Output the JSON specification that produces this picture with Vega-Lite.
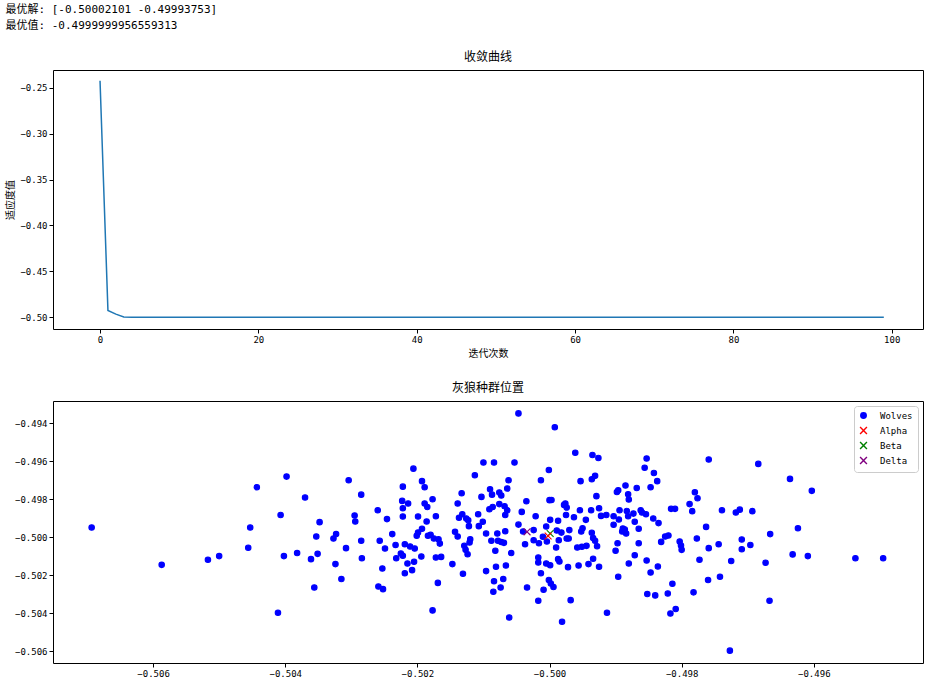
{
  "$schema": "https://vega.github.io/schema/vega-lite/v6.json",
  "padding": {"left": 5, "top": 3, "right": 5, "bottom": 5},
  "background": "white",
  "config": {
    "font": "Noto Sans CJK SC",
    "view": {"stroke": "#000", "strokeWidth": 1},
    "axis": {"grid": false, "domain": false, "tickColor": "#000", "tickSize": 4, "labelColor": "#000", "labelFont": "DejaVu Sans Mono", "labelFontSize": 9, "titleFont": "Noto Sans CJK SC", "titleFontSize": 10, "titleFontWeight": "normal", "titleColor": "#000", "labelPadding": 2},
    "title": {"fontWeight": "normal", "fontSize": 12, "font": "Noto Sans CJK SC", "color": "#000"},
    "concat": {"spacing": 22}
  },
  "title": {"text": ["最优解: [-0.50002101 -0.49993753]", "最优值: -0.4999999956559313"], "anchor": "start", "frame": "bounds", "font": "DejaVu Sans Mono, Noto Sans CJK SC", "fontSize": 11, "lineHeight": 16, "offset": 20, "fontWeight": "normal", "color": "#000"},
  "align": "none",
  "resolve": {"legend": {"fill": "independent", "stroke": "independent", "shape": "independent"}},
  "vconcat": [
    {
      "title": {"text": "收敛曲线", "offset": 6},
      "width": 870,
      "height": 259,
      "data": {"values": [
        {"iter":0,"fitness":-0.2425},{"iter":1,"fitness":-0.4927},{"iter":2,"fitness":-0.4966},{"iter":3,"fitness":-0.49975},{"iter":4,"fitness":-0.49988},
        {"iter":5,"fitness":-0.49993},{"iter":6,"fitness":-0.49996},{"iter":7,"fitness":-0.49997},{"iter":8,"fitness":-0.49998},{"iter":9,"fitness":-0.499985},
        {"iter":10,"fitness":-0.49999},{"iter":11,"fitness":-0.499992},{"iter":12,"fitness":-0.499993},{"iter":13,"fitness":-0.499994},{"iter":14,"fitness":-0.499995},
        {"iter":15,"fitness":-0.4999955},{"iter":16,"fitness":-0.499996},{"iter":17,"fitness":-0.4999965},{"iter":18,"fitness":-0.499997},{"iter":19,"fitness":-0.4999973},
        {"iter":20,"fitness":-0.4999976},{"iter":21,"fitness":-0.4999978},{"iter":22,"fitness":-0.499998},{"iter":23,"fitness":-0.4999982},{"iter":24,"fitness":-0.4999984},
        {"iter":25,"fitness":-0.4999985},{"iter":26,"fitness":-0.4999987},{"iter":27,"fitness":-0.4999988},{"iter":28,"fitness":-0.4999989},{"iter":29,"fitness":-0.499999},
        {"iter":30,"fitness":-0.4999991},{"iter":31,"fitness":-0.4999992},{"iter":32,"fitness":-0.4999993},{"iter":33,"fitness":-0.4999993},{"iter":34,"fitness":-0.4999994},
        {"iter":35,"fitness":-0.4999994},{"iter":36,"fitness":-0.4999995},{"iter":37,"fitness":-0.4999995},{"iter":38,"fitness":-0.4999996},{"iter":39,"fitness":-0.4999996},
        {"iter":40,"fitness":-0.4999996},{"iter":41,"fitness":-0.4999997},{"iter":42,"fitness":-0.4999997},{"iter":43,"fitness":-0.4999997},{"iter":44,"fitness":-0.4999997},
        {"iter":45,"fitness":-0.4999998},{"iter":46,"fitness":-0.4999998},{"iter":47,"fitness":-0.4999998},{"iter":48,"fitness":-0.4999998},{"iter":49,"fitness":-0.4999998},
        {"iter":50,"fitness":-0.4999998},{"iter":51,"fitness":-0.4999999},{"iter":52,"fitness":-0.4999999},{"iter":53,"fitness":-0.4999999},{"iter":54,"fitness":-0.4999999},
        {"iter":55,"fitness":-0.4999999},{"iter":56,"fitness":-0.4999999},{"iter":57,"fitness":-0.4999999},{"iter":58,"fitness":-0.4999999},{"iter":59,"fitness":-0.4999999},
        {"iter":60,"fitness":-0.4999999},{"iter":61,"fitness":-0.4999999},{"iter":62,"fitness":-0.4999999},{"iter":63,"fitness":-0.4999999},{"iter":64,"fitness":-0.4999999},
        {"iter":65,"fitness":-0.4999999},{"iter":66,"fitness":-0.49999995},{"iter":67,"fitness":-0.49999995},{"iter":68,"fitness":-0.49999995},{"iter":69,"fitness":-0.49999995},
        {"iter":70,"fitness":-0.49999995},{"iter":71,"fitness":-0.49999996},{"iter":72,"fitness":-0.49999996},{"iter":73,"fitness":-0.49999996},{"iter":74,"fitness":-0.49999996},
        {"iter":75,"fitness":-0.49999997},{"iter":76,"fitness":-0.49999997},{"iter":77,"fitness":-0.49999997},{"iter":78,"fitness":-0.49999997},{"iter":79,"fitness":-0.49999997},
        {"iter":80,"fitness":-0.49999998},{"iter":81,"fitness":-0.49999998},{"iter":82,"fitness":-0.49999998},{"iter":83,"fitness":-0.49999998},{"iter":84,"fitness":-0.49999998},
        {"iter":85,"fitness":-0.49999998},{"iter":86,"fitness":-0.49999998},{"iter":87,"fitness":-0.49999999},{"iter":88,"fitness":-0.49999999},{"iter":89,"fitness":-0.49999999},
        {"iter":90,"fitness":-0.49999999},{"iter":91,"fitness":-0.49999999},{"iter":92,"fitness":-0.49999999},{"iter":93,"fitness":-0.49999999},{"iter":94,"fitness":-0.49999999},
        {"iter":95,"fitness":-0.49999999},{"iter":96,"fitness":-0.49999999},{"iter":97,"fitness":-0.49999999},{"iter":98,"fitness":-0.4999999956},{"iter":99,"fitness":-0.4999999956}
      ]},
      "mark": {"type": "line", "color": "#1f77b4", "strokeWidth": 1.5},
      "encoding": {
        "x": {"field": "iter", "type": "quantitative", "scale": {"domain": [-5.94, 103.95], "nice": false, "zero": false}, "axis": {"values": [0, 20, 40, 60, 80, 100], "format": "d", "title": "迭代次数"}},
        "y": {"field": "fitness", "type": "quantitative", "scale": {"domain": [-0.5128, -0.2307], "nice": false, "zero": false}, "axis": {"values": [-0.5, -0.45, -0.4, -0.35, -0.3, -0.25], "format": ".2f", "title": "适应度值"}}
      }
    },
    {
      "title": {"text": "灰狼种群位置", "offset": 6},
      "width": 870,
      "height": 262,
      "data": {"values": [
        {"x":-0.50693,"y":-0.49949,"role":"Wolves"},{"x":-0.50587,"y":-0.50146,"role":"Wolves"},{"x":-0.50517,"y":-0.50119,"role":"Wolves"},{"x":-0.50500,"y":-0.50100,"role":"Wolves"},
        {"x":-0.50443,"y":-0.49737,"role":"Wolves"},{"x":-0.50453,"y":-0.49949,"role":"Wolves"},{"x":-0.50456,"y":-0.50056,"role":"Wolves"},{"x":-0.50398,"y":-0.49681,"role":"Wolves"},
        {"x":-0.50407,"y":-0.49883,"role":"Wolves"},{"x":-0.50402,"y":-0.50100,"role":"Wolves"},{"x":-0.50411,"y":-0.50398,"role":"Wolves"},{"x":-0.50370,"y":-0.49791,"role":"Wolves"},
        {"x":-0.50348,"y":-0.49921,"role":"Wolves"},{"x":-0.50353,"y":-0.49997,"role":"Wolves"},{"x":-0.50382,"y":-0.50084,"role":"Wolves"},{"x":-0.50361,"y":-0.50116,"role":"Wolves"},
        {"x":-0.50351,"y":-0.50088,"role":"Wolves"},{"x":-0.50356,"y":-0.50265,"role":"Wolves"},
        {"x":-0.50323,"y":-0.49984,"role":"Wolves"},{"x":-0.50327,"y":-0.50007,"role":"Wolves"},{"x":-0.50324,"y":-0.50142,"role":"Wolves"},{"x":-0.50315,"y":-0.50221,"role":"Wolves"},
        {"x":-0.50304,"y":-0.49700,"role":"Wolves"},{"x":-0.50285,"y":-0.49776,"role":"Wolves"},{"x":-0.50295,"y":-0.49886,"role":"Wolves"},{"x":-0.50294,"y":-0.49918,"role":"Wolves"},
        {"x":-0.50308,"y":-0.50058,"role":"Wolves"},{"x":-0.50285,"y":-0.50019,"role":"Wolves"},{"x":-0.50284,"y":-0.50111,"role":"Wolves"},{"x":-0.50260,"y":-0.49858,"role":"Wolves"},
        {"x":-0.50246,"y":-0.49905,"role":"Wolves"},{"x":-0.50257,"y":-0.50019,"role":"Wolves"},{"x":-0.50249,"y":-0.50060,"role":"Wolves"},{"x":-0.50238,"y":-0.49984,"role":"Wolves"},
        {"x":-0.50253,"y":-0.50165,"role":"Wolves"},{"x":-0.50259,"y":-0.50260,"role":"Wolves"},{"x":-0.50252,"y":-0.50274,"role":"Wolves"},{"x":-0.50233,"y":-0.50041,"role":"Wolves"},
        {"x":-0.50232,"y":-0.50111,"role":"Wolves"},{"x":-0.50225,"y":-0.50086,"role":"Wolves"},{"x":-0.50222,"y":-0.50098,"role":"Wolves"},{"x":-0.50219,"y":-0.50037,"role":"Wolves"},
        {"x":-0.50219,"y":-0.50190,"role":"Wolves"},{"x":-0.50215,"y":-0.50139,"role":"Wolves"},{"x":-0.50222,"y":-0.49734,"role":"Wolves"},{"x":-0.50223,"y":-0.49809,"role":"Wolves"},
        {"x":-0.50222,"y":-0.49848,"role":"Wolves"},{"x":-0.50214,"y":-0.49823,"role":"Wolves"},{"x":-0.50222,"y":-0.49891,"role":"Wolves"},{"x":-0.50206,"y":-0.49639,"role":"Wolves"},
        {"x":-0.50193,"y":-0.49705,"role":"Wolves"},{"x":-0.50189,"y":-0.49737,"role":"Wolves"},{"x":-0.50211,"y":-0.50049,"role":"Wolves"},{"x":-0.50204,"y":-0.50060,"role":"Wolves"},
        {"x":-0.50205,"y":-0.50130,"role":"Wolves"},{"x":-0.50208,"y":-0.50174,"role":"Wolves"},{"x":-0.50194,"y":-0.50102,"role":"Wolves"},{"x":-0.50199,"y":-0.49891,"role":"Wolves"},
        {"x":-0.50201,"y":-0.49993,"role":"Wolves"},{"x":-0.50199,"y":-0.49976,"role":"Wolves"},{"x":-0.50193,"y":-0.49956,"role":"Wolves"},{"x":-0.50186,"y":-0.49918,"role":"Wolves"},
        {"x":-0.50189,"y":-0.49823,"role":"Wolves"},{"x":-0.50185,"y":-0.49841,"role":"Wolves"},{"x":-0.50177,"y":-0.49800,"role":"Wolves"},{"x":-0.50172,"y":-0.49890,"role":"Wolves"},
        {"x":-0.50184,"y":-0.49993,"role":"Wolves"},{"x":-0.50180,"y":-0.49988,"role":"Wolves"},{"x":-0.50175,"y":-0.50007,"role":"Wolves"},{"x":-0.50168,"y":-0.50011,"role":"Wolves"},
        {"x":-0.50166,"y":-0.50034,"role":"Wolves"},{"x":-0.50172,"y":-0.50107,"role":"Wolves"},{"x":-0.50164,"y":-0.50104,"role":"Wolves"},{"x":-0.50169,"y":-0.50241,"role":"Wolves"},
        {"x":-0.50177,"y":-0.50386,"role":"Wolves"},{"x":-0.50147,"y":-0.50142,"role":"Wolves"},{"x":-0.50143,"y":-0.49972,"role":"Wolves"},{"x":-0.50139,"y":-0.49997,"role":"Wolves"},
        {"x":-0.50139,"y":-0.49823,"role":"Wolves"},{"x":-0.50133,"y":-0.49769,"role":"Wolves"},{"x":-0.50137,"y":-0.49898,"role":"Wolves"},{"x":-0.50132,"y":-0.49879,"role":"Wolves"},
        {"x":-0.50126,"y":-0.49902,"role":"Wolves"},{"x":-0.50123,"y":-0.49911,"role":"Wolves"},{"x":-0.50122,"y":-0.49942,"role":"Wolves"},{"x":-0.50131,"y":-0.50193,"role":"Wolves"},
        {"x":-0.50129,"y":-0.50046,"role":"Wolves"},{"x":-0.50127,"y":-0.50067,"role":"Wolves"},{"x":-0.50124,"y":-0.50090,"role":"Wolves"},{"x":-0.50120,"y":-0.50011,"role":"Wolves"},
        {"x":-0.50121,"y":-0.50028,"role":"Wolves"},{"x":-0.50113,"y":-0.49674,"role":"Wolves"},{"x":-0.50108,"y":-0.49879,"role":"Wolves"},{"x":-0.50107,"y":-0.49942,"role":"Wolves"},
        {"x":-0.50047,"y":-0.49348,"role":"Wolves"},{"x":-0.49992,"y":-0.49421,"role":"Wolves"},{"x":-0.49961,"y":-0.49555,"role":"Wolves"},{"x":-0.49935,"y":-0.49567,"role":"Wolves"},
        {"x":-0.49926,"y":-0.49583,"role":"Wolves"},{"x":-0.50100,"y":-0.49607,"role":"Wolves"},{"x":-0.50084,"y":-0.49607,"role":"Wolves"},{"x":-0.50053,"y":-0.49607,"role":"Wolves"},
        {"x":-0.50001,"y":-0.49646,"role":"Wolves"},{"x":-0.50013,"y":-0.49700,"role":"Wolves"},{"x":-0.50062,"y":-0.49700,"role":"Wolves"},{"x":-0.49953,"y":-0.49705,"role":"Wolves"},
        {"x":-0.49936,"y":-0.49695,"role":"Wolves"},{"x":-0.49931,"y":-0.49677,"role":"Wolves"},{"x":-0.49885,"y":-0.49728,"role":"Wolves"},{"x":-0.49898,"y":-0.49762,"role":"Wolves"},
        {"x":-0.49896,"y":-0.49753,"role":"Wolves"},{"x":-0.49881,"y":-0.49774,"role":"Wolves"},{"x":-0.49880,"y":-0.49802,"role":"Wolves"},{"x":-0.49929,"y":-0.49784,"role":"Wolves"},
        {"x":-0.50090,"y":-0.49748,"role":"Wolves"},{"x":-0.50087,"y":-0.49776,"role":"Wolves"},{"x":-0.50076,"y":-0.49765,"role":"Wolves"},{"x":-0.50073,"y":-0.49781,"role":"Wolves"},
        {"x":-0.50064,"y":-0.49744,"role":"Wolves"},{"x":-0.50103,"y":-0.49788,"role":"Wolves"},{"x":-0.50035,"y":-0.49811,"role":"Wolves"},{"x":-0.50000,"y":-0.49805,"role":"Wolves"},
        {"x":-0.49997,"y":-0.49804,"role":"Wolves"},{"x":-0.49978,"y":-0.49830,"role":"Wolves"},{"x":-0.49976,"y":-0.49823,"role":"Wolves"},{"x":-0.49974,"y":-0.49844,"role":"Wolves"},
        {"x":-0.49954,"y":-0.49858,"role":"Wolves"},{"x":-0.49937,"y":-0.49858,"role":"Wolves"},{"x":-0.49925,"y":-0.49848,"role":"Wolves"},{"x":-0.49894,"y":-0.49858,"role":"Wolves"},
        {"x":-0.49883,"y":-0.49862,"role":"Wolves"},{"x":-0.49881,"y":-0.49890,"role":"Wolves"},{"x":-0.49922,"y":-0.49888,"role":"Wolves"},{"x":-0.49914,"y":-0.49883,"role":"Wolves"},
        {"x":-0.49903,"y":-0.49890,"role":"Wolves"},{"x":-0.49895,"y":-0.49907,"role":"Wolves"},{"x":-0.50091,"y":-0.49853,"role":"Wolves"},{"x":-0.50086,"y":-0.49841,"role":"Wolves"},
        {"x":-0.50076,"y":-0.49826,"role":"Wolves"},{"x":-0.50068,"y":-0.49837,"role":"Wolves"},{"x":-0.50064,"y":-0.49858,"role":"Wolves"},{"x":-0.50067,"y":-0.49883,"role":"Wolves"},
        {"x":-0.50042,"y":-0.49867,"role":"Wolves"},{"x":-0.50021,"y":-0.49890,"role":"Wolves"},{"x":-0.49975,"y":-0.49883,"role":"Wolves"},{"x":-0.49963,"y":-0.49895,"role":"Wolves"},
        {"x":-0.49945,"y":-0.49909,"role":"Wolves"},{"x":-0.49999,"y":-0.49909,"role":"Wolves"},{"x":-0.49987,"y":-0.49914,"role":"Wolves"},{"x":-0.50101,"y":-0.49919,"role":"Wolves"},
        {"x":-0.50047,"y":-0.49934,"role":"Wolves"},{"x":-0.50005,"y":-0.49944,"role":"Wolves"},{"x":-0.49903,"y":-0.49935,"role":"Wolves"},{"x":-0.49889,"y":-0.49955,"role":"Wolves"},
        {"x":-0.49890,"y":-0.49970,"role":"Wolves"},{"x":-0.49886,"y":-0.49960,"role":"Wolves"},{"x":-0.49884,"y":-0.49981,"role":"Wolves"},{"x":-0.49950,"y":-0.49953,"role":"Wolves"},
        {"x":-0.49952,"y":-0.49970,"role":"Wolves"},{"x":-0.49970,"y":-0.49963,"role":"Wolves"},{"x":-0.49989,"y":-0.49965,"role":"Wolves"},{"x":-0.49982,"y":-0.49976,"role":"Wolves"},
        {"x":-0.50040,"y":-0.49970,"role":"Wolves"},{"x":-0.50024,"y":-0.49963,"role":"Wolves"},{"x":-0.50067,"y":-0.49969,"role":"Wolves"},{"x":-0.50079,"y":-0.49981,"role":"Wolves"},
        {"x":-0.50096,"y":-0.49981,"role":"Wolves"},{"x":-0.50010,"y":-0.49998,"role":"Wolves"},{"x":-0.50016,"y":-0.50032,"role":"Wolves"},{"x":-0.50004,"y":-0.50023,"role":"Wolves"},
        {"x":-0.49986,"y":-0.50016,"role":"Wolves"},{"x":-0.49974,"y":-0.50007,"role":"Wolves"},{"x":-0.49971,"y":-0.50007,"role":"Wolves"},{"x":-0.50024,"y":-0.50016,"role":"Wolves"},
        {"x":-0.50037,"y":-0.50037,"role":"Wolves"},{"x":-0.49936,"y":-0.49977,"role":"Wolves"},{"x":-0.49934,"y":-0.50005,"role":"Wolves"},{"x":-0.49931,"y":-0.50019,"role":"Wolves"},
        {"x":-0.49928,"y":-0.50048,"role":"Wolves"},{"x":-0.49958,"y":-0.50055,"role":"Wolves"},{"x":-0.49951,"y":-0.50051,"role":"Wolves"},{"x":-0.49944,"y":-0.50046,"role":"Wolves"},
        {"x":-0.49990,"y":-0.50055,"role":"Wolves"},{"x":-0.49897,"y":-0.50032,"role":"Wolves"},{"x":-0.49900,"y":-0.50072,"role":"Wolves"},{"x":-0.50088,"y":-0.50019,"role":"Wolves"},
        {"x":-0.50078,"y":-0.50019,"role":"Wolves"},{"x":-0.50073,"y":-0.50026,"role":"Wolves"},{"x":-0.50069,"y":-0.50030,"role":"Wolves"},{"x":-0.50082,"y":-0.50072,"role":"Wolves"},
        {"x":-0.50058,"y":-0.50084,"role":"Wolves"},{"x":-0.50017,"y":-0.50107,"role":"Wolves"},{"x":-0.50017,"y":-0.50134,"role":"Wolves"},{"x":-0.50005,"y":-0.50139,"role":"Wolves"},
        {"x":-0.49999,"y":-0.50148,"role":"Wolves"},{"x":-0.49987,"y":-0.50116,"role":"Wolves"},{"x":-0.49985,"y":-0.50128,"role":"Wolves"},{"x":-0.49934,"y":-0.50114,"role":"Wolves"},
        {"x":-0.49941,"y":-0.50142,"role":"Wolves"},{"x":-0.49925,"y":-0.50156,"role":"Wolves"},{"x":-0.49956,"y":-0.50149,"role":"Wolves"},{"x":-0.49972,"y":-0.50158,"role":"Wolves"},
        {"x":-0.50081,"y":-0.50156,"role":"Wolves"},{"x":-0.50066,"y":-0.50149,"role":"Wolves"},{"x":-0.50096,"y":-0.50179,"role":"Wolves"},{"x":-0.50013,"y":-0.50190,"role":"Wolves"},
        {"x":-0.49880,"y":-0.50139,"role":"Wolves"},{"x":-0.49896,"y":-0.50209,"role":"Wolves"},{"x":-0.50084,"y":-0.50232,"role":"Wolves"},{"x":-0.50070,"y":-0.50221,"role":"Wolves"},
        {"x":-0.50074,"y":-0.50265,"role":"Wolves"},{"x":-0.50085,"y":-0.50288,"role":"Wolves"},{"x":-0.50034,"y":-0.50265,"role":"Wolves"},{"x":-0.50001,"y":-0.50226,"role":"Wolves"},
        {"x":-0.49998,"y":-0.50244,"role":"Wolves"},{"x":-0.49994,"y":-0.50263,"role":"Wolves"},{"x":-0.50009,"y":-0.50277,"role":"Wolves"},{"x":-0.50017,"y":-0.50335,"role":"Wolves"},
        {"x":-0.49968,"y":-0.50332,"role":"Wolves"},{"x":-0.49913,"y":-0.50398,"role":"Wolves"},{"x":-0.50061,"y":-0.50423,"role":"Wolves"},{"x":-0.49981,"y":-0.50446,"role":"Wolves"},
        {"x":-0.49853,"y":-0.49586,"role":"Wolves"},{"x":-0.49856,"y":-0.49634,"role":"Wolves"},{"x":-0.49842,"y":-0.49662,"role":"Wolves"},{"x":-0.49837,"y":-0.49705,"role":"Wolves"},
        {"x":-0.49847,"y":-0.49737,"role":"Wolves"},{"x":-0.49868,"y":-0.49741,"role":"Wolves"},{"x":-0.49759,"y":-0.49591,"role":"Wolves"},{"x":-0.49684,"y":-0.49614,"role":"Wolves"},
        {"x":-0.49636,"y":-0.49693,"role":"Wolves"},{"x":-0.49603,"y":-0.49756,"role":"Wolves"},{"x":-0.49780,"y":-0.49763,"role":"Wolves"},{"x":-0.49776,"y":-0.49795,"role":"Wolves"},
        {"x":-0.49788,"y":-0.49826,"role":"Wolves"},{"x":-0.49784,"y":-0.49863,"role":"Wolves"},{"x":-0.49816,"y":-0.49851,"role":"Wolves"},{"x":-0.49810,"y":-0.49851,"role":"Wolves"},
        {"x":-0.49873,"y":-0.49876,"role":"Wolves"},{"x":-0.49862,"y":-0.49858,"role":"Wolves"},{"x":-0.49860,"y":-0.49870,"role":"Wolves"},{"x":-0.49854,"y":-0.49879,"role":"Wolves"},
        {"x":-0.49843,"y":-0.49902,"role":"Wolves"},{"x":-0.49835,"y":-0.49926,"role":"Wolves"},{"x":-0.49871,"y":-0.49919,"role":"Wolves"},{"x":-0.49865,"y":-0.49956,"role":"Wolves"},
        {"x":-0.49739,"y":-0.49858,"role":"Wolves"},{"x":-0.49718,"y":-0.49870,"role":"Wolves"},{"x":-0.49712,"y":-0.49855,"role":"Wolves"},{"x":-0.49693,"y":-0.49863,"role":"Wolves"},
        {"x":-0.49763,"y":-0.49946,"role":"Wolves"},{"x":-0.49624,"y":-0.49953,"role":"Wolves"},{"x":-0.49666,"y":-0.49984,"role":"Wolves"},{"x":-0.49825,"y":-0.49997,"role":"Wolves"},
        {"x":-0.49820,"y":-0.49991,"role":"Wolves"},{"x":-0.49831,"y":-0.50025,"role":"Wolves"},{"x":-0.49803,"y":-0.50023,"role":"Wolves"},{"x":-0.49801,"y":-0.50044,"role":"Wolves"},
        {"x":-0.49800,"y":-0.50067,"role":"Wolves"},{"x":-0.49777,"y":-0.50007,"role":"Wolves"},{"x":-0.49759,"y":-0.50058,"role":"Wolves"},{"x":-0.49744,"y":-0.50037,"role":"Wolves"},
        {"x":-0.49709,"y":-0.50012,"role":"Wolves"},{"x":-0.49709,"y":-0.50064,"role":"Wolves"},{"x":-0.49696,"y":-0.50041,"role":"Wolves"},{"x":-0.49865,"y":-0.50032,"role":"Wolves"},
        {"x":-0.49871,"y":-0.50095,"role":"Wolves"},{"x":-0.49853,"y":-0.50123,"role":"Wolves"},{"x":-0.49836,"y":-0.50155,"role":"Wolves"},{"x":-0.49847,"y":-0.50186,"role":"Wolves"},
        {"x":-0.49773,"y":-0.50119,"role":"Wolves"},{"x":-0.49725,"y":-0.50126,"role":"Wolves"},{"x":-0.49673,"y":-0.50135,"role":"Wolves"},{"x":-0.49632,"y":-0.50091,"role":"Wolves"},
        {"x":-0.49609,"y":-0.50100,"role":"Wolves"},{"x":-0.49537,"y":-0.50111,"role":"Wolves"},{"x":-0.49495,"y":-0.50111,"role":"Wolves"},{"x":-0.49760,"y":-0.50226,"role":"Wolves"},
        {"x":-0.49742,"y":-0.50209,"role":"Wolves"},{"x":-0.49814,"y":-0.50246,"role":"Wolves"},{"x":-0.49852,"y":-0.50300,"role":"Wolves"},{"x":-0.49840,"y":-0.50307,"role":"Wolves"},
        {"x":-0.49821,"y":-0.50297,"role":"Wolves"},{"x":-0.49782,"y":-0.50291,"role":"Wolves"},{"x":-0.49809,"y":-0.50379,"role":"Wolves"},{"x":-0.49817,"y":-0.50402,"role":"Wolves"},
        {"x":-0.49667,"y":-0.50335,"role":"Wolves"},{"x":-0.49727,"y":-0.50598,"role":"Wolves"},
        {"x":-0.50002101,"y":-0.49993753,"role":"Alpha"},
        {"x":-0.49999,"y":-0.49981,"role":"Beta"},
        {"x":-0.50034,"y":-0.49972,"role":"Delta"}
      ]},
      "mark": {"type": "point", "filled": true, "size": 30, "strokeWidth": 1.1, "opacity": 1},
      "encoding": {
        "x": {"field": "x", "type": "quantitative", "scale": {"domain": [-0.507515, -0.494347], "nice": false, "zero": false}, "axis": {"values": [-0.506, -0.504, -0.502, -0.5, -0.498, -0.496], "format": ".3f", "title": null}},
        "y": {"field": "y", "type": "quantitative", "scale": {"domain": [-0.506632, -0.492826], "nice": false, "zero": false}, "axis": {"values": [-0.506, -0.504, -0.502, -0.5, -0.498, -0.496, -0.494], "format": ".3f", "title": null}},
        "fill": {"field": "role", "type": "nominal", "scale": {"domain": ["Wolves", "Alpha", "Beta", "Delta"], "range": ["#0000ff", "#ff0000", "#008000", "#800080"]}, "legend": {"title": null}},
        "stroke": {"field": "role", "type": "nominal", "scale": {"domain": ["Wolves", "Alpha", "Beta", "Delta"], "range": ["#0000ff", "#ff0000", "#008000", "#800080"]}, "legend": {"title": null}},
        "shape": {"field": "role", "type": "nominal", "scale": {"domain": ["Wolves", "Alpha", "Beta", "Delta"], "range": ["circle", "M-1.25,-1.25L1.25,1.25M-1.25,1.25L1.25,-1.25", "M-1.25,-1.25L1.25,1.25M-1.25,1.25L1.25,-1.25", "M-1.25,-1.25L1.25,1.25M-1.25,1.25L1.25,-1.25"]}, "legend": {"title": null, "orient": "top-right", "offset": 5, "padding": 5, "strokeColor": "#cccccc", "fillColor": "#ffffff", "cornerRadius": 3, "labelFont": "DejaVu Sans Mono", "labelFontSize": 9, "labelColor": "#000", "symbolSize": 30, "rowPadding": 2, "labelOffset": 12, "symbolStrokeWidth": 1.4}},
        "order": {"field": "role", "sort": "descending"}
      }
    }
  ]
}
